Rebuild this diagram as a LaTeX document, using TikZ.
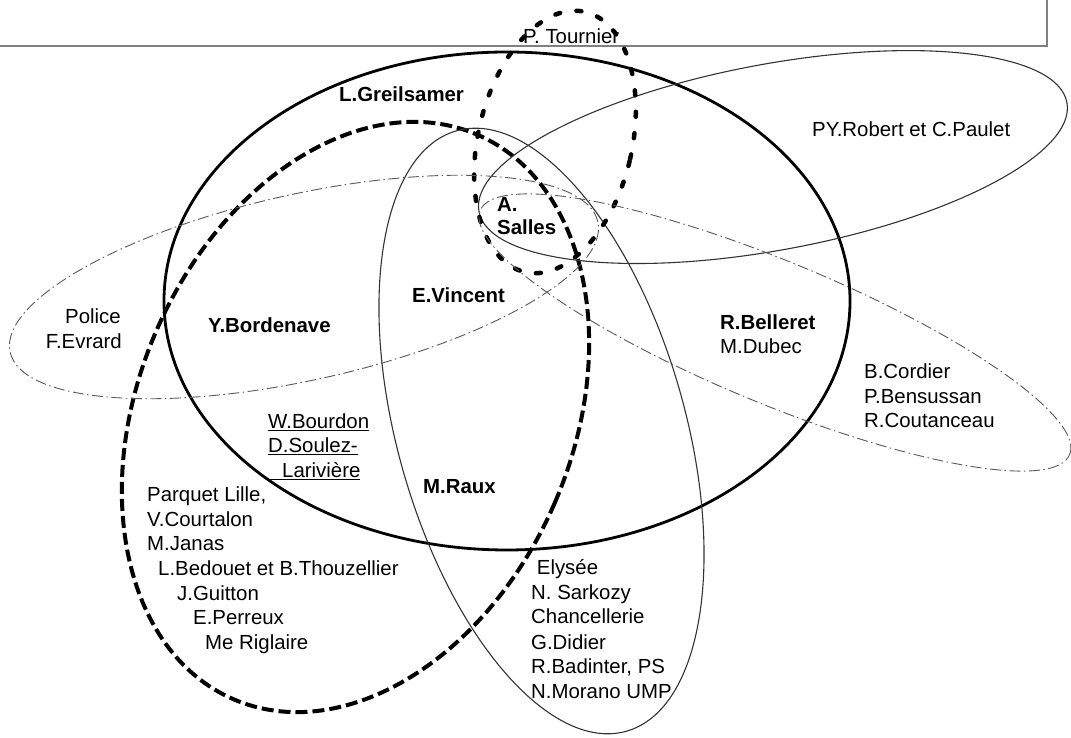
\documentclass[tikz,border=0pt]{standalone}
\usepackage{fontspec}
\setmainfont{Liberation Sans}
\newcommand\myul[1]{\sbox0{#1}\rlap{\rule[-2.4pt]{\wd0}{1.1pt}}\usebox0}
\tikzset{
 lbl/.style={anchor=base west, inner sep=0pt, font=\fontsize{20.4}{24.7}\selectfont},
 lblr/.style={anchor=base east, inner sep=0pt, font=\fontsize{20.4}{24.7}\selectfont},
 lblb/.style={anchor=base west, inner sep=0pt, font=\fontsize{20.4}{24.7}\selectfont\bfseries},
 thickell/.style={line width=2.8pt, black},
 thinell/.style={line width=1.1pt, black!80},
 bigdash/.style={line width=4pt, black, dash pattern=on 12pt off 5pt},
 dotell/.style={line width=4.5pt, black, line cap=round, dash pattern=on 5pt off 16.5pt},
 dashdot/.style={line width=0.9pt, black!65, dash pattern=on 11pt off 3.5pt on 1.5pt off 3.5pt},
 frameln/.style={line width=1.8pt, black!50},
}
\begin{document}
\begin{tikzpicture}[x=1pt,y=1pt]
\useasboundingbox (0,0) rectangle (1071,738);
% frame
\coordinate (fA) at (0,692);
\coordinate (fB) at (1047,692);
\coordinate (fC) at (1047,738);
\draw[frameln] (fA) -- (fB) -- (fC);
% ellipses
\coordinate (cG) at (507,437);
\draw[thickell] (cG) ellipse (343 and 249);
\coordinate (cD) at (355.5,321);
\draw[bigdash, rotate around={-23.4:(cD)}] (cD) ellipse (217 and 307.5);
\coordinate (cT) at (541.5,307);
\draw[thinell, rotate around={15.8:(cT)}] (cT) ellipse (144 and 312);
\coordinate (cP) at (773,581);
\draw[thinell, rotate around={10.5:(cP)}] (cP) ellipse (299 and 93);
\coordinate (cR) at (555,596);
\draw[dotell, rotate around={-13:(cR)}] (cR) ellipse (77 and 133.5);
\coordinate (cL) at (304,451);
\draw[dashdot, rotate around={12.5:(cL)}] (cL) ellipse (301 and 93);
\coordinate (cC) at (775,405.5);
\draw[dashdot, rotate around={-22.5:(cC)}] (cC) ellipse (319 and 71);
% labels
\node[lbl] (tournier) at (523,694.7) {P. Tournier};
\node[lblb] (greil) at (339,636.3) {L.Greilsamer};
\node[lbl] (pyrob) at (812,601.3) {PY.Robert et C.Paulet};
\node[lblb] (sallesA) at (497,526.3) {A.};
\node[lblb] (sallesB) at (497,503.7) {Salles};
\node[lblb] (vincent) at (412,435) {E.Vincent};
\node[lblb] (borden) at (208,405.3) {Y.Bordenave};
\node[lblr] (police) at (121,414.7) {Police};
\node[lblr] (evrard) at (122,389.7) {F.Evrard};
\node[lblb] (belleret) at (720,408) {R.Belleret};
\node[lbl] (dubec) at (720,384) {M.Dubec};
\node[lbl] (cordier) at (864,359.7) {B.Cordier};
\node[lbl] (bensus) at (864,334.7) {P.Bensussan};
\node[lbl] (coutan) at (864,310.7) {R.Coutanceau};
\node[lbl] (bourdon) at (268,309.7) {\myul{W.Bourdon}};
\node[lbl] (soulez) at (268,285.3) {\myul{D.Soulez-}};
\node[lbl] (lariv) at (268,260.7) {\myul{\hspace*{14pt}Larivière}};
\node[lblb] (raux) at (423,244.3) {M.Raux};
\node[lbl] (pq1) at (147,236.3) {Parquet Lille,};
\node[lbl] (pq2) at (147,211.7) {V.Courtalon};
\node[lbl] (pq3) at (147,187) {M.Janas};
\node[lbl] (pq4) at (158,162.3) {L.Bedouet et B.Thouzellier};
\node[lbl] (pq5) at (177,137.6) {J.Guitton};
\node[lbl] (pq6) at (193,113) {E.Perreux};
\node[lbl] (pq7) at (205,88.2) {Me Riglaire};
\node[lbl] (el1) at (536.7,163) {Elysée};
\node[lbl] (el2) at (531,138) {N. Sarkozy};
\node[lbl] (el3) at (531,114) {Chancellerie};
\node[lbl] (el4) at (531,88.7) {G.Didier};
\node[lbl] (el5) at (531,64) {R.Badinter, PS};
\node[lbl] (el6) at (531,39.7) {N.Morano UMP};
\end{tikzpicture}
\end{document}
